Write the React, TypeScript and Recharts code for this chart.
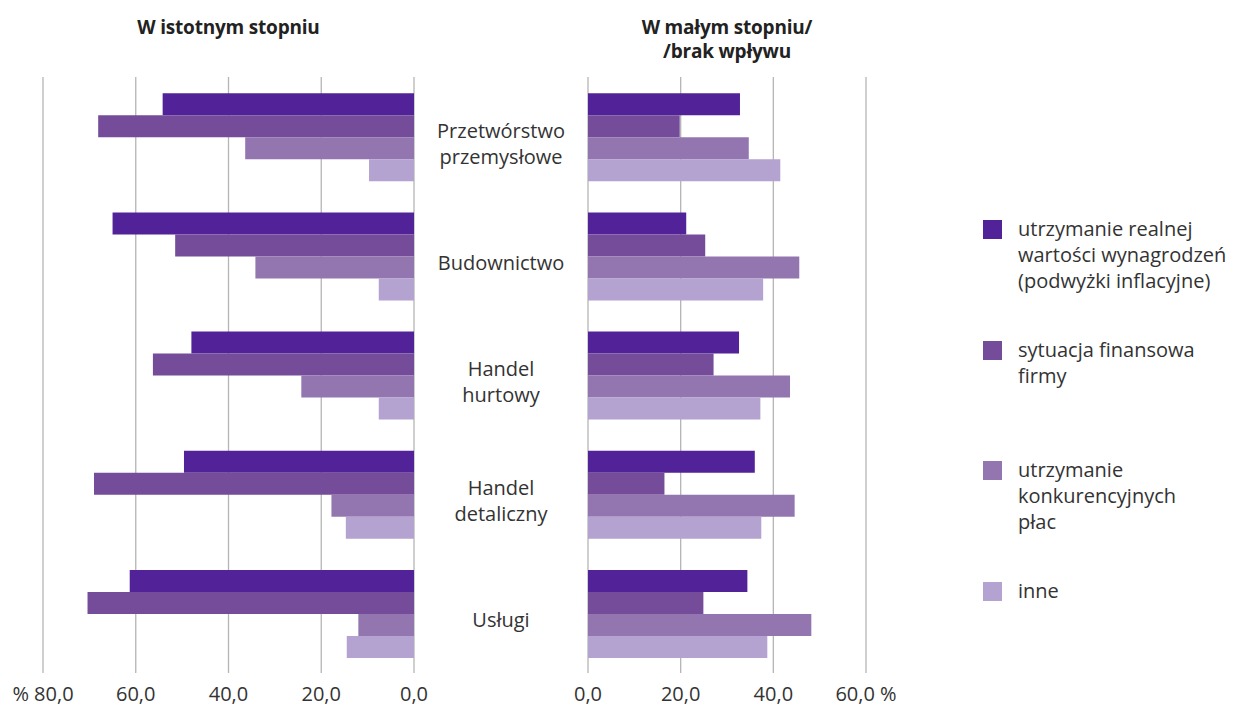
import React from "react";
import { BarChart, Bar, XAxis, YAxis, CartesianGrid } from "recharts";

const categories = [
  "Przetwórstwo\nprzemysłowe",
  "Budownictwo",
  "Handel\nhurtowy",
  "Handel\ndetaliczny",
  "Usługi",
];

const seriesNames = [
  "utrzymanie realnej\nwartości wynagrodzeń\n(podwyżki inflacyjne)",
  "sytuacja finansowa\nfirmy",
  "utrzymanie\nkonkurencyjnych\npłac",
  "inne",
];
const COLORS = ["#522398", "#744c99", "#9376b0", "#b4a2d0"];

// W istotnym stopniu
const realWagesHigh = [54.2, 65.0, 48.0, 49.6, 61.3];
const financeHigh = [68.1, 51.5, 56.3, 69.0, 70.4];
const competitiveHigh = [36.4, 34.2, 24.3, 17.8, 12.0];
const otherHigh = [9.7, 7.6, 7.6, 14.7, 14.5];

// W małym stopniu / brak wpływu
const realWagesLow = [32.8, 21.2, 32.6, 36.0, 34.4];
const financeLow = [19.8, 25.3, 27.1, 16.5, 24.9];
const competitiveLow = [34.7, 45.6, 43.6, 44.6, 48.2];
const otherLow = [41.5, 37.8, 37.2, 37.4, 38.7];

const leftTicks = [0, 20, 40, 60, 80];
const rightTicks = [0, 20, 40, 60];

const keys = ["s0", "s1", "s2", "s3"];

const build = (cols: number[][]) =>
  categories.map((name, i) => ({
    name,
    s0: cols[0][i],
    s1: cols[1][i],
    s2: cols[2][i],
    s3: cols[3][i],
  }));

const highData = build([realWagesHigh, financeHigh, competitiveHigh, otherHigh]);
const lowData = build([realWagesLow, financeLow, competitiveLow, otherLow]);

const FONT = "'Open Sans', 'Noto Sans', sans-serif";
const TEXT = "#333";

const fmt = (v: number) => v.toFixed(1).replace(".", ",");

function CategoryTick(props: any) {
  const { x, y, payload } = props;
  const lines = String(payload.value).split("\n");
  const start = -((lines.length - 1) * 26) / 2 + 9;
  return (
    <text
      x={x + 87}
      y={y + start}
      textAnchor="middle"
      fontFamily={FONT}
      fontSize={20}
      fill={TEXT}
      dominantBaseline="middle"
    >
      {lines.map((l, i) => (
        <tspan key={i} x={x + 87} dy={i === 0 ? 0 : 26}>
          {l}
        </tspan>
      ))}
    </text>
  );
}

const tickStyle = { fontFamily: FONT, fontSize: 20, fill: TEXT };

const titleStyle: React.CSSProperties = {
  position: "absolute",
  top: 15,
  textAlign: "center",
  fontWeight: 700,
  fontSize: 19,
  color: "#222",
  lineHeight: "24px",
  letterSpacing: "-0.2px",
};

export default function App() {
  return (
    <div
      style={{
        position: "absolute",
        left: 0,
        top: 0,
        width: 1236,
        height: 706,
        background: "#fff",
        fontFamily: FONT,
        color: TEXT,
        overflow: "hidden",
      }}
    >
      <div style={{ ...titleStyle, left: 43, width: 371 }}>W istotnym stopniu</div>
      <div style={{ ...titleStyle, left: 588, width: 278 }}>
        W małym stopniu/
        <br />
        /brak wpływu
      </div>

      <div style={{ position: "absolute", left: 0, top: 0 }}>
        <BarChart
          layout="vertical"
          width={588}
          height={716}
          data={highData}
          margin={{ top: 77, right: 0, bottom: 10, left: 43 }}
          barCategoryGap="13.6%"
          barGap={0}
        >
          <CartesianGrid horizontal={false} stroke="#b5b5b5" strokeWidth={1.3} />
          <XAxis
            type="number"
            domain={[0, 80]}
            ticks={leftTicks}
            reversed
            interval={0}
            axisLine={false}
            tickLine={false}
            tickSize={0}
            tickMargin={14}
            height={33}
            tick={tickStyle}
            tickFormatter={(v: number) => (v === 80 ? "% " + fmt(v) : fmt(v))}
          />
          <YAxis
            type="category"
            dataKey="name"
            orientation="right"
            width={174}
            axisLine={false}
            tickLine={false}
            tickSize={0}
            tickMargin={0}
            interval={0}
            tick={<CategoryTick />}
          />
          {keys.map((k, i) => (
            <Bar key={k} dataKey={k} fill={COLORS[i]} isAnimationActive={false} />
          ))}
        </BarChart>
      </div>

      <div style={{ position: "absolute", left: 558, top: 0 }}>
        <BarChart
          layout="vertical"
          width={368}
          height={716}
          data={lowData}
          margin={{ top: 77, right: 60, bottom: 10, left: 30 }}
          barCategoryGap="13.6%"
          barGap={0}
        >
          <CartesianGrid horizontal={false} stroke="#b5b5b5" strokeWidth={1.3} />
          <XAxis
            type="number"
            domain={[0, 60]}
            ticks={rightTicks}
            interval={0}
            axisLine={false}
            tickLine={false}
            tickSize={0}
            tickMargin={14}
            height={33}
            tick={tickStyle}
            tickFormatter={(v: number) => (v === 60 ? fmt(v) + " %" : fmt(v))}
          />
          <YAxis type="category" dataKey="name" hide />
          {keys.map((k, i) => (
            <Bar key={k} dataKey={k} fill={COLORS[i]} isAnimationActive={false} />
          ))}
        </BarChart>
      </div>

      <div style={{ position: "absolute", left: 983, top: 216 }}>
        {seriesNames.map((n, i) => (
          <div key={i} style={{ height: 120.5, display: "flex" }}>
            <div
              style={{
                width: 19,
                height: 19,
                background: COLORS[i],
                marginTop: 4,
                flexShrink: 0,
              }}
            />
            <div
              style={{
                marginLeft: 16,
                fontSize: 20,
                lineHeight: "26px",
                whiteSpace: "pre-line",
                color: TEXT,
              }}
            >
              {n}
            </div>
          </div>
        ))}
      </div>
    </div>
  );
}
